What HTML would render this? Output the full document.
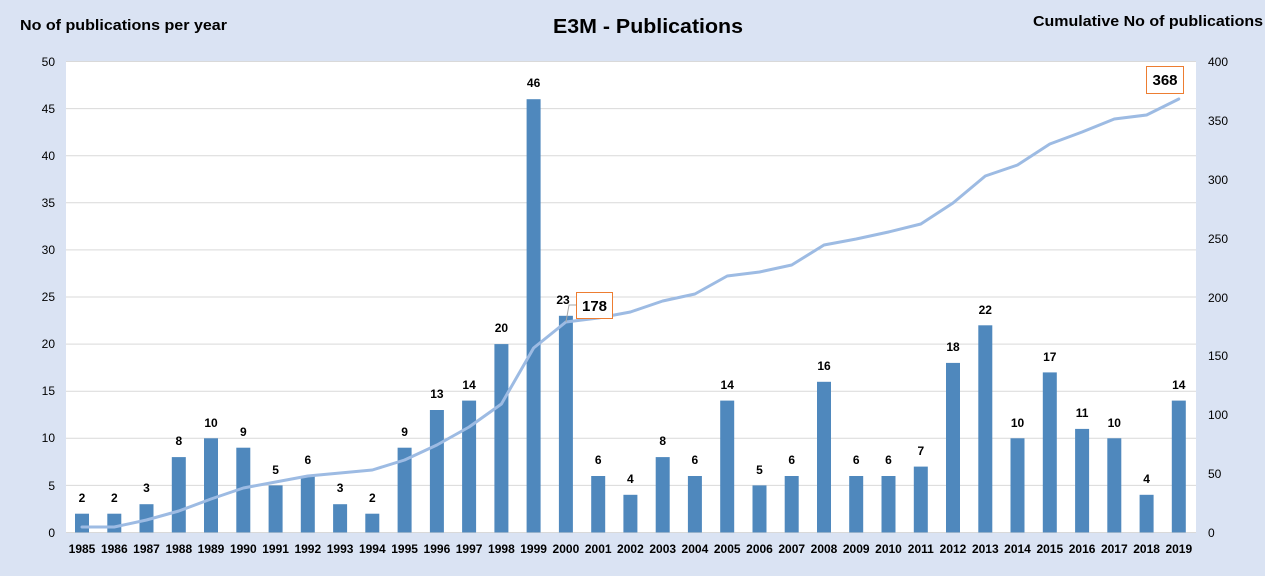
<!DOCTYPE html>
<html><head><meta charset="utf-8"><style>
html,body{margin:0;padding:0;background:#dae3f3;}
svg{display:block;font-family:"Liberation Sans",Arial,sans-serif;}
.bl text{font-size:12px;font-weight:bold;text-anchor:middle;fill:#000}
.yl text{font-size:12px;fill:#000}
</style></head><body>
<svg width="1265" height="576" viewBox="0 0 1265 576">
<rect x="0" y="0" width="1265" height="576" fill="#dae3f3"/>
<rect x="66" y="61" width="1130" height="472" fill="#fff"/>
<g stroke="#d9d9d9" stroke-width="1">
<line x1="66" x2="1196" y1="61.5" y2="61.5"/><line x1="66" x2="1196" y1="108.6" y2="108.6"/>
<line x1="66" x2="1196" y1="155.7" y2="155.7"/><line x1="66" x2="1196" y1="202.8" y2="202.8"/>
<line x1="66" x2="1196" y1="249.9" y2="249.9"/><line x1="66" x2="1196" y1="297" y2="297"/>
<line x1="66" x2="1196" y1="344.1" y2="344.1"/><line x1="66" x2="1196" y1="391.2" y2="391.2"/>
<line x1="66" x2="1196" y1="438.3" y2="438.3"/><line x1="66" x2="1196" y1="485.4" y2="485.4"/>
<line x1="66" x2="1196" y1="532.5" y2="532.5"/>
</g>
<g class="yl" text-anchor="end">
<text x="55" y="66">50</text><text x="55" y="113">45</text><text x="55" y="160">40</text><text x="55" y="207">35</text><text x="55" y="254">30</text><text x="55" y="301">25</text><text x="55" y="348">20</text><text x="55" y="395">15</text><text x="55" y="442">10</text><text x="55" y="490">5</text><text x="55" y="537">0</text>
</g>
<g class="yl" text-anchor="start">
<text x="1208" y="66">400</text><text x="1208" y="125">350</text><text x="1208" y="184">300</text><text x="1208" y="243">250</text><text x="1208" y="302">200</text><text x="1208" y="360">150</text><text x="1208" y="419">100</text><text x="1208" y="478">50</text><text x="1208" y="537">0</text>
</g>
<g fill="#4f88bd">
<rect x="75" y="513.7" width="14" height="18.8"/>
<rect x="107.3" y="513.7" width="14" height="18.8"/>
<rect x="139.5" y="504.2" width="14" height="28.3"/>
<rect x="171.8" y="457.1" width="14" height="75.4"/>
<rect x="204" y="438.3" width="14" height="94.2"/>
<rect x="236.3" y="447.7" width="14" height="84.8"/>
<rect x="268.6" y="485.4" width="14" height="47.1"/>
<rect x="300.8" y="476" width="14" height="56.5"/>
<rect x="333.1" y="504.2" width="14" height="28.3"/>
<rect x="365.3" y="513.7" width="14" height="18.8"/>
<rect x="397.6" y="447.7" width="14" height="84.8"/>
<rect x="429.9" y="410" width="14" height="122.5"/>
<rect x="462.1" y="400.6" width="14" height="131.9"/>
<rect x="494.4" y="344.1" width="14" height="188.4"/>
<rect x="526.6" y="99.2" width="14" height="433.3"/>
<rect x="558.9" y="315.8" width="14" height="216.7"/>
<rect x="591.2" y="476" width="14" height="56.5"/>
<rect x="623.4" y="494.8" width="14" height="37.7"/>
<rect x="655.7" y="457.1" width="14" height="75.4"/>
<rect x="687.9" y="476" width="14" height="56.5"/>
<rect x="720.2" y="400.6" width="14" height="131.9"/>
<rect x="752.5" y="485.4" width="14" height="47.1"/>
<rect x="784.7" y="476" width="14" height="56.5"/>
<rect x="817" y="381.8" width="14" height="150.7"/>
<rect x="849.2" y="476" width="14" height="56.5"/>
<rect x="881.5" y="476" width="14" height="56.5"/>
<rect x="913.8" y="466.6" width="14" height="65.9"/>
<rect x="946" y="362.9" width="14" height="169.6"/>
<rect x="978.3" y="325.3" width="14" height="207.2"/>
<rect x="1010.5" y="438.3" width="14" height="94.2"/>
<rect x="1042.8" y="372.4" width="14" height="160.1"/>
<rect x="1075.1" y="428.9" width="14" height="103.6"/>
<rect x="1107.3" y="438.3" width="14" height="94.2"/>
<rect x="1139.6" y="494.8" width="14" height="37.7"/>
<rect x="1171.8" y="400.6" width="14" height="131.9"/>
</g>
<g class="bl">
<text x="82" y="502">2</text><text x="114.3" y="502">2</text><text x="146.5" y="492">3</text><text x="178.8" y="445">8</text><text x="211" y="427">10</text><text x="243.3" y="436">9</text><text x="275.6" y="474">5</text><text x="307.8" y="464">6</text><text x="340.1" y="492">3</text><text x="372.3" y="502">2</text><text x="404.6" y="436">9</text><text x="436.9" y="398">13</text><text x="469.1" y="389">14</text><text x="501.4" y="332">20</text><text x="533.6" y="87">46</text><text x="563" y="304">23</text><text x="598.2" y="464">6</text><text x="630.4" y="483">4</text><text x="662.7" y="445">8</text><text x="694.9" y="464">6</text><text x="727.2" y="389">14</text><text x="759.5" y="474">5</text><text x="791.7" y="464">6</text><text x="824" y="370">16</text><text x="856.2" y="464">6</text><text x="888.5" y="464">6</text><text x="920.8" y="455">7</text><text x="953" y="351">18</text><text x="985.3" y="314">22</text><text x="1017.5" y="427">10</text><text x="1049.8" y="361">17</text><text x="1082.1" y="417">11</text><text x="1114.3" y="427">10</text><text x="1146.6" y="483">4</text><text x="1178.8" y="389">14</text>
</g>
<g class="bl">
<text x="82" y="553">1985</text><text x="114.3" y="553">1986</text><text x="146.5" y="553">1987</text><text x="178.8" y="553">1988</text><text x="211" y="553">1989</text><text x="243.3" y="553">1990</text><text x="275.6" y="553">1991</text><text x="307.8" y="553">1992</text><text x="340.1" y="553">1993</text><text x="372.3" y="553">1994</text><text x="404.6" y="553">1995</text><text x="436.9" y="553">1996</text><text x="469.1" y="553">1997</text><text x="501.4" y="553">1998</text><text x="533.6" y="553">1999</text><text x="565.9" y="553">2000</text><text x="598.2" y="553">2001</text><text x="630.4" y="553">2002</text><text x="662.7" y="553">2003</text><text x="694.9" y="553">2004</text><text x="727.2" y="553">2005</text><text x="759.5" y="553">2006</text><text x="791.7" y="553">2007</text><text x="824" y="553">2008</text><text x="856.2" y="553">2009</text><text x="888.5" y="553">2010</text><text x="920.8" y="553">2011</text><text x="953" y="553">2012</text><text x="985.3" y="553">2013</text><text x="1017.5" y="553">2014</text><text x="1049.8" y="553">2015</text><text x="1082.1" y="553">2016</text><text x="1114.3" y="553">2017</text><text x="1146.6" y="553">2018</text><text x="1178.8" y="553">2019</text>
</g>
<polyline fill="none" stroke="#9dbbe3" stroke-width="3" stroke-linejoin="round" stroke-linecap="round"
points="82,527 114.3,527 146.5,520 178.8,511 211,499 243.3,488 275.6,482 307.8,476 340.1,473 372.3,470 404.6,460 436.9,445 469.1,427 501.4,404 533.6,348 565.9,322 598.2,318 630.4,312 662.7,301 694.9,294 727.2,276 759.5,272 791.7,265 824,245 856.2,239 888.5,232 920.8,224 953,203 985.3,176 1017.5,165 1049.8,144 1082.1,132 1114.3,119 1146.6,115 1178.8,99"/>
<polyline fill="none" stroke="#a6a6a6" stroke-width="1" points="566,322 569,305 576,305"/>
<rect x="576.5" y="292.5" width="36" height="26" fill="#fff" stroke="#ed7d31" stroke-width="1"/>
<text x="594.5" y="311" font-size="15" font-weight="bold" text-anchor="middle">178</text>
<rect x="1146.5" y="66.5" width="37" height="27" fill="#fff" stroke="#ed7d31" stroke-width="1"/>
<text x="1165" y="85" font-size="15" font-weight="bold" text-anchor="middle">368</text>
<text x="648" y="33" font-size="20" font-weight="bold" text-anchor="middle" textLength="190" lengthAdjust="spacingAndGlyphs">E3M - Publications</text>
<text x="20" y="30" font-size="15" font-weight="bold" textLength="207" lengthAdjust="spacingAndGlyphs">No of publications per year</text>
<text x="1033" y="26" font-size="15" font-weight="bold" textLength="230" lengthAdjust="spacingAndGlyphs">Cumulative No of publications</text>
</svg>
</body></html>
